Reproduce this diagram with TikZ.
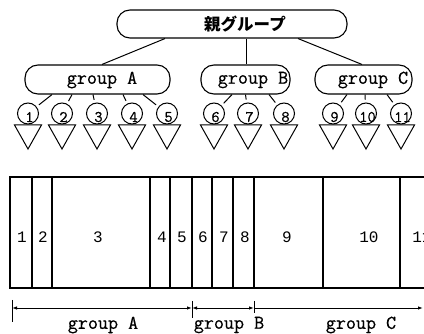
\documentclass[tikz,border=0pt]{standalone}
\usepackage{fontspec}
\newfontfamily\mono[FakeBold=0.7]{Latin Modern Mono}
\newfontfamily\monoplain{Liberation Mono}
\newfontfamily\jp{Noto Sans CJK JP}
\usetikzlibrary{calc,arrows.meta}
\tikzset{
  gbox/.style={draw, line width=1.1pt, rounded corners=13pt, minimum height=29pt, inner sep=0pt},
  numc/.style={draw, circle, line width=1pt, minimum size=21pt, inner sep=0pt},
  tri/.style={draw, line width=1pt, line join=miter},
  glbl/.style={inner sep=0pt, font=\mono\fontsize{19.5}{19.5}\selectfont},
  clbl/.style={inner sep=0pt, font=\mono\fontsize{16}{16}\selectfont},
  cellnum/.style={inner sep=0pt, font=\monoplain\fontsize{16}{16}\selectfont},
  conn/.style={line width=1pt},
  stub/.style={line width=1pt, shorten >=3pt},
  thin/.style={line width=1.1pt},
  thickl/.style={line width=2pt},
  dim/.style={line width=0.9pt, {Latex[length=5pt,width=3.5pt]}-{Latex[length=5pt,width=3.5pt]}},
  dimr/.style={line width=0.9pt, -{Latex[length=5pt,width=3.5pt]}},
}
\begin{document}
\begin{tikzpicture}[x=1pt,y=-1pt]
\useasboundingbox (0,0) rectangle (424,334);
\clip (0,0) rectangle (424,334);
% parent
\node[gbox, minimum width=230pt, minimum height=28pt] (P) at (232,24) {};
\node[inner sep=0pt, font=\jp\bfseries\fontsize{16.5}{16.5}\selectfont] (Pt) at (245,24.5) {親グループ};
% groups
\node[gbox, minimum width=145pt] (gA) at (97.5,79.5) {};
\node[gbox, minimum width=89pt] (gB) at (245.5,79.5) {};
\node[gbox, minimum width=97pt] (gC) at (363.5,79.5) {};
\node[glbl] (tA) at (102,80) {group A};
\node[glbl] (tB) at (253,80) {group B};
\node[glbl] (tC) at (373,80) {group C};
\draw[conn] ($(P.south)+(-67,0)$) -- ($(gA.north)+(4.5,0)$);
\draw[conn] ($(P.south)+(14,0)$) -- ($(gB.north)+(0.5,0)$);
\draw[conn] ($(P.south)+(66,0)$) -- ($(gC.north)+(-1.5,0)$);
% circles and triangles
\foreach \i/\x in {1/28,2/62,3/97,4/132,5/167,6/214,7/248,8/284,9/333,10/366,11/401}{
  \node[numc] (c\i) at (\x,113.5) {};
  \node[clbl] (d\i) at ($(c\i)+(1.5,3.5)$) {\i};
  \draw[tri] ($(c\i)+(-13.5,11.5)$) -- ($(c\i)+(13.5,11.5)$) -- ($(c\i)+(0,35.5)$) -- cycle;
}
% stubs
\draw[stub] ($(gA.south)+(-45.5,0)$) -- (c1);
\draw[stub] ($(gA.south)+(-25.5,0)$) -- (c2);
\draw[stub] ($(gA.south)+(-4.5,0)$) -- (c3);
\draw[stub] ($(gA.south)+(25.5,0)$) -- (c4);
\draw[stub] ($(gA.south)+(45.5,0)$) -- (c5);
\draw[stub] ($(gB.south)+(-13.5,0)$) -- (c6);
\draw[stub] ($(gB.south)+(0,0)$) -- (c7);
\draw[stub] ($(gB.south)+(23.5,0)$) -- (c8);
\draw[stub] ($(gC.south)+(-16.5,0)$) -- (c9);
\draw[stub] ($(gC.south)+(1.5,0)$) -- (c10);
\draw[stub] ($(gC.south)+(23.5,0)$) -- (c11);
% bottom block
\foreach \x in {32,52,150,170,212,233,323,400}{
  \draw[thin] (\x,177) -- (\x,288);
}
\draw[thickl] (192,177) -- (192,288);
\draw[thickl] (254,177) -- (254,288);
\draw[thickl] (10,177) rectangle (440,288);
\foreach \n/\x in {1/22,2/43,3/98,4/162,5/182,6/203,7/224,8/245,9/287,10/369,11/422}{
  \node[cellnum] (k\n) at (\x,237) {\n};
}
% dimension line
\coordinate (a0) at (12,308);
\coordinate (a1) at (192,308);
\coordinate (a2) at (254,308);
\coordinate (a3) at (424,308);
\draw[line width=0.9pt] (12,300) -- (12,322);
\draw[line width=0.9pt] (192,301) -- (192,318);
\draw[line width=0.9pt] (254,301) -- (254,313);
\draw[dim] (a0) -- (a1);
\draw[dim] (a1) -- (a2);
\draw[dimr] (a2) -- ($(a3)+(-1,0)$);
\node[glbl] (bA) at (103,325) {group A};
\node[glbl] (bB) at (229,325) {group B};
\node[glbl] (bC) at (361,325) {group C};
\end{tikzpicture}
\end{document}
